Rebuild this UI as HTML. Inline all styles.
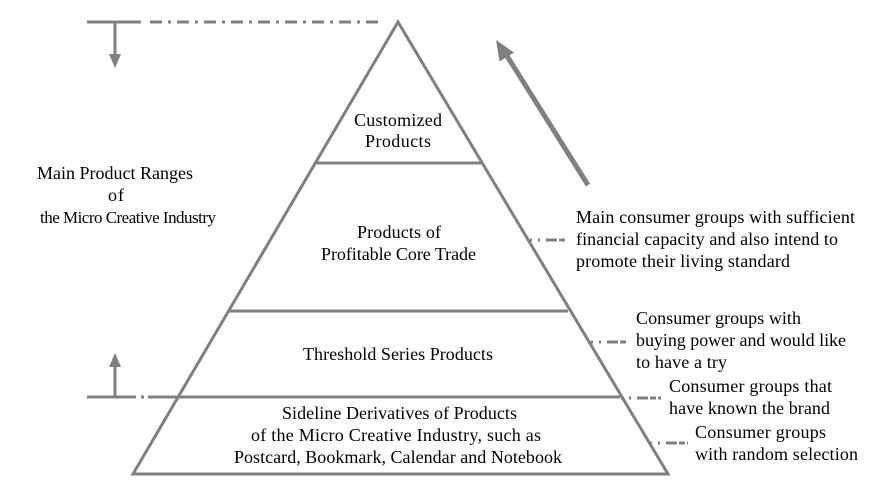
<!DOCTYPE html>
<html><head><style>
html,body{margin:0;padding:0;background:#fff;}
svg{display:block;}
text{font-family:"Liberation Serif","Times New Roman",serif;font-size:18px;fill:#000;}
</style></head><body>
<svg width="869" height="493" viewBox="0 0 869 493">
<g stroke="#808080" stroke-width="3" fill="none">
<polygon points="398,22 133,474 668,474" stroke-linejoin="miter"/>
<line x1="315" y1="163" x2="481" y2="163"/>
<line x1="228" y1="311" x2="568" y2="311"/>
<line x1="148" y1="397" x2="620" y2="397"/>
<line x1="87" y1="22" x2="141" y2="22"/>
<line x1="150" y1="22" x2="378" y2="22" stroke-dasharray="12,6,3,6"/>
<line x1="115" y1="22" x2="115" y2="56"/>
<line x1="87" y1="397" x2="128" y2="397"/>
<line x1="128" y1="397" x2="150" y2="397" stroke-dasharray="8,5,3,5"/>
<line x1="115" y1="397" x2="115" y2="365"/>
<line x1="530" y1="240" x2="566" y2="240" stroke-dasharray="2,6,2,6,11"/>
<line x1="591" y1="342" x2="626" y2="342" stroke-dasharray="2,6,2,6,11"/>
<line x1="621" y1="398" x2="661" y2="398" stroke-dasharray="2,6,2,6,11"/>
<line x1="650" y1="443" x2="688" y2="443" stroke-dasharray="2,6,2,6,11"/>
<line x1="588" y1="185" x2="507" y2="56" stroke-width="5"/>
</g>
<g fill="#808080">
<polygon points="109,54 121,54 115,68"/>
<polygon points="109,367 121,367 115,353"/>
<polygon points="496,40 499.5,61.5 514,52.5"/>
</g>
<g font-family="Liberation Serif, serif">
<text x="354" y="126" textLength="88" lengthAdjust="spacing">Customized</text>
<text x="365" y="147" textLength="66" lengthAdjust="spacing">Products</text>
<text x="357" y="238" textLength="84" lengthAdjust="spacing">Products of</text>
<text x="321" y="260" textLength="155" lengthAdjust="spacing">Profitable Core Trade</text>
<text x="303" y="360" textLength="190" lengthAdjust="spacing">Threshold Series Products</text>
<text x="282" y="419" textLength="235" lengthAdjust="spacing">Sideline Derivatives of Products</text>
<text x="251" y="441" textLength="290" lengthAdjust="spacing">of the Micro Creative Industry,  such as</text>
<text x="234" y="463" textLength="328" lengthAdjust="spacing">Postcard, Bookmark, Calendar and Notebook</text>
<text x="37" y="179" textLength="156" lengthAdjust="spacing">Main Product Ranges</text>
<text x="108" y="201" textLength="16" lengthAdjust="spacing">of</text>
<text x="40" y="223" style="font-size:17px" textLength="176" lengthAdjust="spacing">the Micro Creative Industry</text>
<text x="576" y="223" textLength="279" lengthAdjust="spacing">Main consumer groups with sufficient</text>
<text x="576" y="245" textLength="262" lengthAdjust="spacing">financial capacity and also intend to</text>
<text x="576" y="267" textLength="214" lengthAdjust="spacing">promote their living standard</text>
<text x="636" y="324" textLength="165" lengthAdjust="spacing">Consumer groups with</text>
<text x="636" y="346" textLength="210" lengthAdjust="spacing">buying power and would like</text>
<text x="636" y="368" textLength="91" lengthAdjust="spacing">to have a try</text>
<text x="669" y="392" textLength="163" lengthAdjust="spacing">Consumer groups that</text>
<text x="669" y="414" textLength="161" lengthAdjust="spacing">have known the brand</text>
<text x="695" y="438" textLength="131" lengthAdjust="spacing">Consumer groups</text>
<text x="695" y="460" textLength="163" lengthAdjust="spacing">with random selection</text>
</g>
</svg>
</body></html>
